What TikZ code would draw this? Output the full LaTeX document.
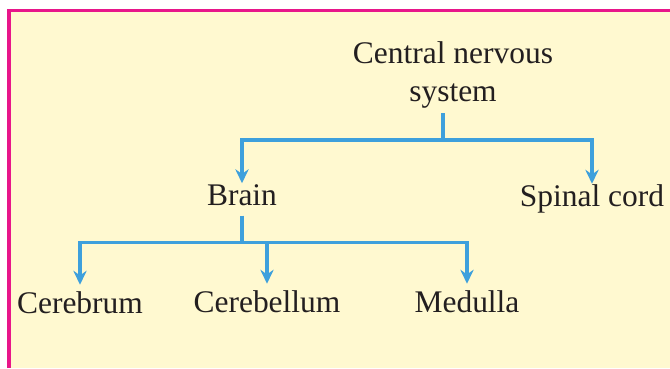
\documentclass[tikz,border=0pt]{standalone}
\usepackage{fontspec}
\setmainfont{Liberation Serif}
\usetikzlibrary{arrows.meta}

\definecolor{boxpink}{RGB}{232,22,138}
\definecolor{boxfill}{RGB}{255,249,208}
\definecolor{linkblue}{RGB}{62,160,220}
\definecolor{inkgray}{RGB}{35,31,32}

\tikzset{
	organ/.style={font=\fontsize{23.6pt}{28.5pt}\selectfont, text=inkgray, inner sep=0pt, anchor=base, text height=16.5pt, text depth=7.5pt},
	suborgan/.style={organ, inner ysep=4.5pt},
	link/.style={draw=linkblue, line width=2.3pt, -{Stealth[length=10.5pt,width=10pt,inset=3.5pt]}},
}

\begin{document}
\begin{tikzpicture}[x=0.75pt,y=-0.75pt]
	\useasboundingbox (0,0) rectangle (670,368);
	% panel
	\fill[boxfill] (8.8,10.5) rectangle (670,368);
	\draw[boxpink, line width=2.6pt] (8.8,368) -- (8.8,10.5) -- (670,10.5);

	\node (cns) at (453,113) [anchor=south, inner sep=3pt, align=center, text=inkgray, font=\fontsize{23.6pt}{28.5pt}\selectfont] {Central nervous\\system};
	\coordinate (cnsfoot) at ([xshift=-7.5pt]cns.south);

	\node[organ] (brain) at (242,205.5) {Brain};
	\node[organ] (spinal) at (592,206) {Spinal cord};
	\node[suborgan] (cerebrum) at (80,313) {Cerebrum};
	\node[suborgan] (cerebellum) at (267,312) {Cerebellum};
	\node[suborgan] (medulla) at (467,312) {Medulla};

	\draw[link] (cnsfoot) -- ++(0,27) -| (brain.north);
	\draw[link] (cnsfoot) -- ++(0,27) -| (spinal.north);
	\foreach \part in {cerebrum,cerebellum,medulla} {
		\draw[link] (brain.south) -- ++(0,27) -| (\part.north);
	}
\end{tikzpicture}
\end{document}
